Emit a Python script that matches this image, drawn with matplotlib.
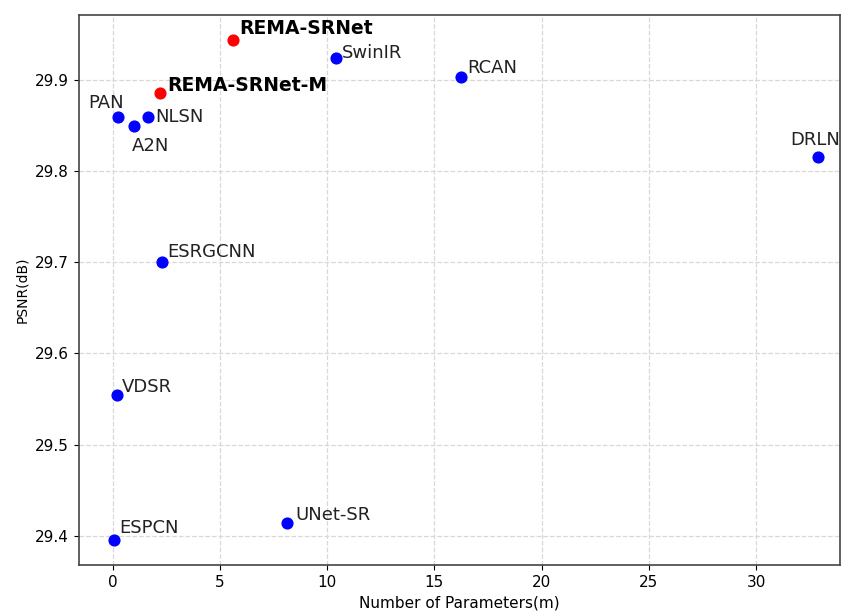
import matplotlib
matplotlib.use("Agg")
import matplotlib.pyplot as plt

# model data: parameters (millions) vs PSNR (dB)
models = ["REMA-SRNet", "REMA-SRNet-M", "SwinIR", "RCAN", "PAN", "NLSN", "A2N",
          "DRLN", "ESRGCNN", "VDSR", "UNet-SR", "ESPCN"]
params = [5.63, 2.21, 10.42, 16.22, 0.27, 1.64, 1.0, 32.87, 2.31, 0.2, 8.13, 0.07]
psnr = [29.944, 29.886, 29.924, 29.903, 29.859, 29.859, 29.850, 29.815, 29.700,
        29.554, 29.414, 29.395]
ours = ["REMA-SRNet", "REMA-SRNet-M"]

# label offsets in points (dx, dy, ha), text centred vertically
offsets = {
    "REMA-SRNet": (4, 8.5, "left"),
    "REMA-SRNet-M": (5, 5.5, "left"),
    "SwinIR": (4, 4, "left"),
    "RCAN": (5, 6.3, "left"),
    "PAN": (4, 10, "right"),
    "NLSN": (5.5, 0, "left"),
    "A2N": (-1.5, -15, "left"),
    "DRLN": (-1.5, 12.7, "center"),
    "ESRGCNN": (4, 7.6, "left"),
    "VDSR": (3.5, 6, "left"),
    "UNet-SR": (6, 6, "left"),
    "ESPCN": (4, 8.5, "left"),
}

fig, ax = plt.subplots(figsize=(8.41, 6.12), dpi=100)
fig.subplots_adjust(left=0.0936, right=0.9994, top=0.9755, bottom=0.0768)

for name, x, y in zip(models, params, psnr):
    is_ours = name in ours
    ax.scatter(x, y, s=60, color="red" if is_ours else "blue", zorder=3)
    dx, dy, ha = offsets[name]
    ax.annotate(name, (x, y), xytext=(dx, dy), textcoords="offset points",
                ha=ha, va="center", fontsize=13.5 if is_ours else 13,
                fontweight="bold" if is_ours else "normal",
                color="black" if is_ours else "#222222")

ax.set_xlim(-1.58, 33.93)
ax.set_ylim(29.3678, 29.9713)
ax.set_xticks([0, 5, 10, 15, 20, 25, 30])
ax.set_yticks([29.4, 29.5, 29.6, 29.7, 29.8, 29.9])
ax.set_xlabel("Number of Parameters(m)", fontsize=11)
ax.set_ylabel("PSNR(dB)", fontsize=10)
ax.tick_params(labelsize=11)
ax.grid(True, linestyle="--", color="#d8d8d8", linewidth=0.9)
ax.set_axisbelow(True)
for sp in ax.spines.values():
    sp.set_color("#444444")
    sp.set_linewidth(1.2)

fig.savefig("out.png", dpi=100)
